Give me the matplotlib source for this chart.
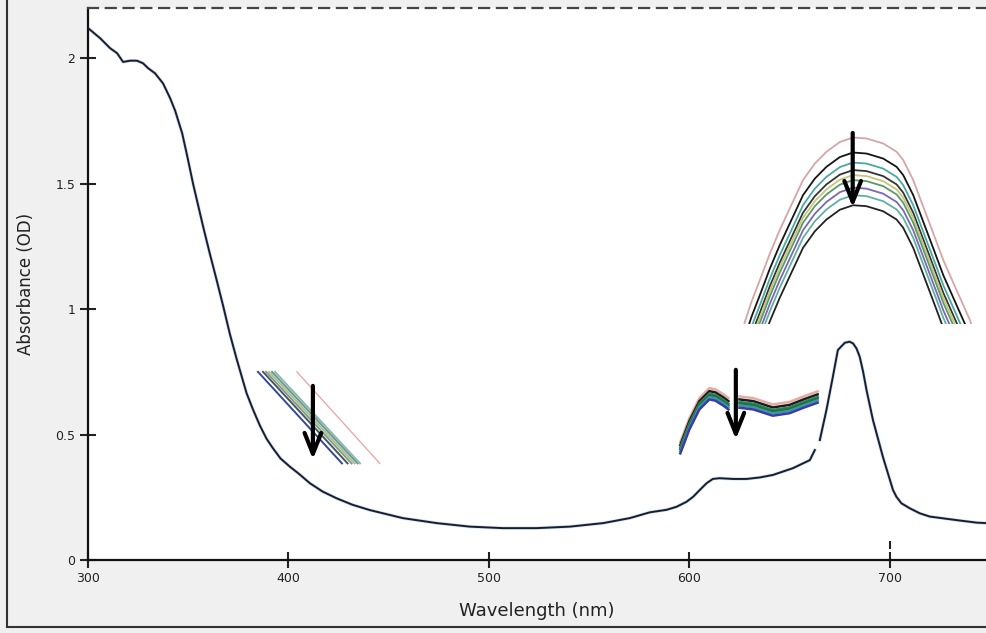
import numpy as np
import matplotlib
matplotlib.use("Agg")
import matplotlib.pyplot as plt
from matplotlib.lines import Line2D
from matplotlib.patches import Rectangle

# full spectrum (overlapping scans, drawn as one trace)
wl = [300, 306, 311, 314.5, 317.5, 321, 324.4, 327.4, 330, 333.4, 337.4, 341, 343.5,
      347, 349.5, 352.4, 357.4, 360.8, 364.2, 367.5, 370.8, 374.2, 379.1, 382.4, 385.8,
      389.1, 392.3, 396, 400.7, 405, 410.7, 417, 424, 432, 440.6, 457, 474,
      490.5, 507, 523.8, 540.4, 557, 570.3, 580.3, 588.6, 593.6, 598.6, 601.9, 605.2,
      608.6, 611.7, 615, 621.9, 628.5, 635.2, 641.7, 651.7, 660.1, 662.6,
      np.nan, 665.1, 668.4, 671.6, 674.1, 677.6, 680, 681.7, 683.4, 685, 686.7,
      688.4, 691.6, 696.6, 701.6, 703.3, 705.8, 710, 715, 720, 733.3, 743.2, 748]
absb = [2.12, 2.08, 2.04, 2.02, 1.985, 1.99, 1.99, 1.98, 1.96, 1.94, 1.90, 1.84, 1.79,
        1.70, 1.61, 1.50, 1.33, 1.22, 1.115, 1.01, 0.90, 0.80, 0.665, 0.598, 0.535,
        0.483, 0.445, 0.405, 0.372, 0.345, 0.306, 0.273, 0.246, 0.22, 0.199, 0.167, 0.147,
        0.133, 0.127, 0.127, 0.133, 0.147, 0.167, 0.19, 0.20, 0.212, 0.232, 0.252, 0.279,
        0.306, 0.323, 0.326, 0.323, 0.323, 0.329, 0.339, 0.366, 0.398, 0.438,
        np.nan, 0.478, 0.598, 0.73, 0.837, 0.866, 0.87, 0.863, 0.843, 0.81, 0.75,
        0.677, 0.558, 0.41, 0.279, 0.252, 0.226, 0.206, 0.186, 0.173, 0.159, 0.149, 0.147]

# stray tick left on the plot at 700 nm
stray_wl = 700
stray_a = 0.06

# zoom-in 1: Soret tail, straight slanted segments (start wl, start A, end wl, end A)
z1_start_wl = [384.8, 387.3, 388.8, 390.3, 391.8, 393.3, 404.2]
z1_end_wl = [426.7, 429.5, 431.5, 433.0, 434.5, 435.7, 445.6]
z1_start_a = 0.75
z1_end_a = 0.385
z1_colors = ["#34489a", "#4a5560", "#7aa08a", "#b9b88e", "#5f9e92", "#8fb7b0", "#e4a4a0"]

# zoom-in 2: 600-665 nm shoulder, top trace and offsets of the others
z2_wl = [595.5, 600, 605, 610, 613, 617, 619.5, np.nan, 625, 632, 641.6, 650, 657, 664]
z2_top = [0.47, 0.565, 0.645, 0.685, 0.68, 0.66, 0.645, np.nan, 0.652, 0.645, 0.62,
          0.63, 0.652, 0.672]
z2_offsets = [0, 0.012, 0.022, 0.028, 0.036, 0.045]
z2_colors = ["#e8aaa4", "#1c1c1c", "#2f8a55", "#236e50", "#3a9a9a", "#3a3aa8"]

# zoom-in 3: Qy band top, outer trace and downward offsets of the others
z3_wl = [620.0, 627.7, 631.0, 635.2, 640.2, 645.1, 650.1, 656.7, 662.6, 668.4, 675.1,
         681.7, 688.4, 696.7, 703.4, 706.7, 711.7, 716.7, 721.7, 726.7, 733.3, 740.0, 746.0]
z3_top = [0.70, 0.949, 1.029, 1.116, 1.222, 1.315, 1.401, 1.514, 1.580, 1.627, 1.666,
          1.684, 1.680, 1.660, 1.627, 1.594, 1.514, 1.408, 1.302, 1.195, 1.076, 0.956, 0.80]
z3_offsets = [0, 0.06, 0.10, 0.13, 0.15, 0.17, 0.20, 0.23, 0.27]
z3_colors = ["#d6a6a6", "#151515", "#4aa8a0", "#333333", "#c8c67a", "#5a9a6a",
             "#7a68b0", "#60b0a0", "#222222"]

# arrows (x, from, to)
arrow_x = [412.2, 623.2, 681.5]
arrow_from = [0.705, 0.769, 1.713]
arrow_to = [0.39, 0.47, 1.394]

fig = plt.figure(figsize=(9.86, 6.33), dpi=100, facecolor="#f0f0f0")
ax = fig.add_axes([88 / 986, 73 / 633, 898 / 986, 552 / 633])
ax.set_facecolor("white")

# main trace
ax.plot(wl, absb, color="#6fb5a5", lw=2.4, alpha=0.35, zorder=2)
ax.plot(wl, absb, color="#1b1b38", lw=1.4, zorder=3)
ax.scatter([stray_wl], [stray_a], marker="|", s=40, color="#222222", linewidths=1.5)

# zoom 1
for s, e, c in zip(z1_start_wl, z1_end_wl, z1_colors):
    ax.plot([s, e], [z1_start_a, z1_end_a], color=c, lw=1.4 if c != "#e4a4a0" else 0.9,
            zorder=3)

# zoom 2
z2_top = np.array(z2_top)
for off, c in zip(z2_offsets, z2_colors):
    ax.plot(z2_wl, z2_top - off, color=c, lw=1.8, zorder=3)

# zoom 3, clipped at the lower edge of the window
z3_top = np.array(z3_top)
clip = Rectangle((620, 0.94), 130, 1.0, transform=ax.transData)
for off, c in zip(z3_offsets, z3_colors):
    ln, = ax.plot(z3_wl, z3_top - off, color=c, lw=1.3, zorder=3)
    ln.set_clip_path(clip)

for x, y0, y1 in zip(arrow_x, arrow_from, arrow_to):
    ax.annotate("", xy=(x, y1), xytext=(x, y0),
                arrowprops=dict(arrowstyle="->, head_length=0.75, head_width=0.3",
                                lw=3, color="black", mutation_scale=20),
                zorder=5)

ax.set_xlim(300, 748)
ax.set_ylim(0, 2.2)
ax.set_xticks([300, 400, 500, 600, 700])
ax.set_yticks([0, 0.5, 1, 1.5, 2])
ax.set_yticklabels(["0", "0.5", "1", "1.5", "2"])
ax.tick_params(direction="inout", length=12, width=1.5, labelsize=9,
               colors="#222222", pad=3)

for side in ["left", "bottom"]:
    ax.spines[side].set_linewidth(1.6)
    ax.spines[side].set_color("#111111")
ax.spines["right"].set_visible(False)
ax.spines["top"].set_linestyle((0, (4.5, 3.5)))
ax.spines["top"].set_linewidth(1.6)
ax.spines["top"].set_color("#444444")

ax.set_xlabel("Wavelength (nm)", fontsize=13, color="#222222", labelpad=12)
ax.set_ylabel("Absorbance (OD)", fontsize=12, color="#222222", labelpad=15)

# window frame
fig.add_artist(Line2D([7 / 986, 7 / 986], [6 / 633, 1], color="#333333", lw=1.5))
fig.add_artist(Line2D([7 / 986, 1], [6 / 633, 6 / 633], color="#333333", lw=1.5))

fig.savefig("out.png", dpi=100, facecolor=fig.get_facecolor())
